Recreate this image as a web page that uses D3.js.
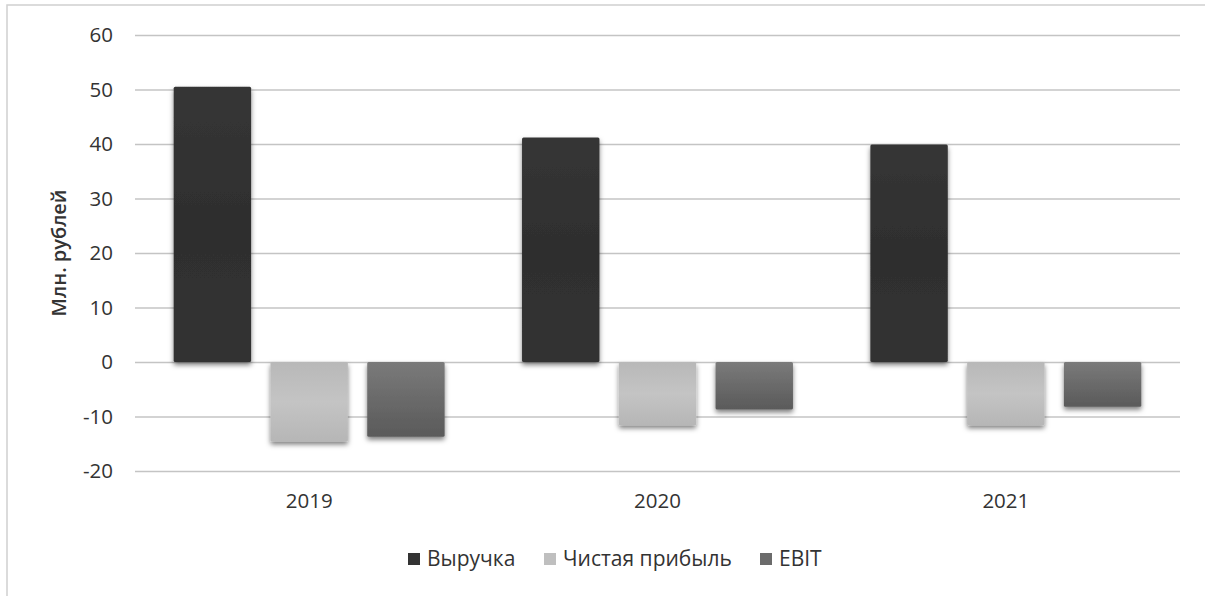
<!DOCTYPE html>
<html><head><meta charset="utf-8">
<script src="https://cdn.jsdelivr.net/npm/d3@7"></script>
<style>body{margin:0;background:#fff}svg{display:block}</style>
</head><body>
<svg id="c" width="1205" height="596"></svg>
<script>
const categories = ["2019", "2020", "2021"];
const seriesNames = ["Выручка", "Чистая прибыль", "EBIT"];
const revenue = [50.5, 41.2, 39.9];
const netProfit = [-14.6, -11.6, -11.6];
const ebit = [-13.7, -8.7, -8.2];
const yTicks = [-20, -10, 0, 10, 20, 30, 40, 50, 60];
const yTitle = "Млн. рублей";

(function(){
const seriesValues = [revenue, netProfit, ebit];
const svg = d3.select("#c");
const font = "'Open Sans', sans-serif";
const W = 1205, H = 596;
const mLeft = 135, mRight = 1180, mTop = 35, mBottom = 471;
const txt = "#333333";

const defs = svg.append("defs");
const f = defs.append("filter").attr("id","sh").attr("x","-20%").attr("y","-20%").attr("width","140%").attr("height","140%");
f.append("feDropShadow").attr("dx",0).attr("dy",3).attr("stdDeviation",2.5).attr("flood-color","#000").attr("flood-opacity",0.5);

const grads = [["#363636","#2e2e2e","#333333"],["#b8b8b8","#c4c4c4","#b6b6b6"],["#7a7a7a","#6a6a6a","#5a5a5a"]];
grads.forEach((g,i)=>{
  const lg = defs.append("linearGradient").attr("id","g"+i).attr("x1",0).attr("y1",0).attr("x2",0).attr("y2",1);
  lg.append("stop").attr("offset","0%").attr("stop-color",g[0]);
  lg.append("stop").attr("offset","50%").attr("stop-color",g[1]);
  lg.append("stop").attr("offset","100%").attr("stop-color",g[2]);
});
const legendColors = ["#333333","#bfbfbf","#6b6b6b"];

// outer border
svg.append("rect").attr("x",7).attr("y",5).attr("width",W+20).attr("height",H+20)
  .attr("fill","none").attr("stroke","#d0d0d0").attr("stroke-width",1.5);

const y = d3.scaleLinear().domain([-20,60]).range([mBottom, mTop]);
const x0 = d3.scaleBand().domain(categories).range([mLeft, mRight]).padding(0);
const w = x0.bandwidth()/4.5;
const x1 = d3.scaleBand().domain(seriesNames).range([w*0.5, x0.bandwidth()-w*0.5]).paddingInner(0.2).paddingOuter(0);

// gridlines
const yAxis = d3.axisLeft(y).tickValues(yTicks).tickSize(-(mRight-mLeft)).tickFormat(d => String(d));
const gy = svg.append("g").attr("transform",`translate(${mLeft},0)`).call(yAxis);
gy.select(".domain").remove();
gy.selectAll(".tick line").attr("stroke","#c4c4c4").attr("stroke-width",1.6);
gy.selectAll(".tick text").attr("font-family",font).attr("font-size",20.5).attr("fill",txt).attr("x",-22);

// x axis labels
const xAxis = d3.axisBottom(x0).tickSize(0).tickPadding(22);
const gx = svg.append("g").attr("transform",`translate(0,${mBottom})`).call(xAxis);
gx.select(".domain").remove();
gx.selectAll(".tick text").attr("font-family",font).attr("font-size",20.5).attr("fill",txt);

// bars
const groups = svg.append("g").selectAll("g").data(categories).join("g")
  .attr("transform", d=>`translate(${x0(d)},0)`);
groups.selectAll("rect").data((c,ci)=>seriesNames.map((s,si)=>({s,si,v:seriesValues[si][ci]})))
  .join("rect")
  .attr("x", d=>x1(d.s)).attr("width", x1.bandwidth())
  .attr("y", d=>y(Math.max(0,d.v))).attr("height", d=>Math.abs(y(d.v)-y(0)))
  .attr("rx",1.5)
  .attr("fill", d=>`url(#g${d.si})`).attr("filter","url(#sh)");

// y title
svg.append("text").attr("transform",`translate(66,253) rotate(-90)`).attr("text-anchor","middle")
  .attr("font-family",font).attr("font-size",20).attr("font-weight",600).attr("fill",txt).text(yTitle);

// legend
const legX = [408, 544, 760];
const lg = svg.append("g").selectAll("g").data(seriesNames).join("g")
  .attr("transform",(d,i)=>`translate(${legX[i]},553)`);
lg.append("rect").attr("width",12).attr("height",12).attr("fill",(d,i)=>legendColors[i]);
lg.append("text").attr("x",19).attr("y",6).attr("dy","0.35em").attr("font-family",font).attr("font-size",21)
  .attr("fill",txt).text(d=>d);
})();
</script>
</body></html>
